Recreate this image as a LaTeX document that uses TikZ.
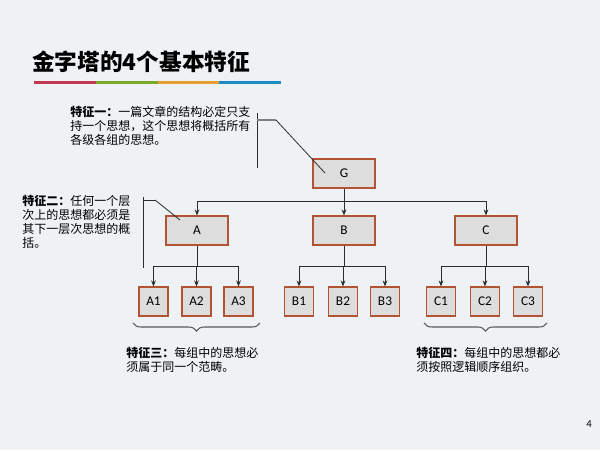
\documentclass[tikz,border=0pt]{standalone}
\usepackage{fontspec}
\setmainfont{Carlito}
\newfontfamily\cjk{Noto Sans CJK SC}
\usetikzlibrary{arrows.meta,calc,decorations.pathreplacing}

\definecolor{slidebg}{RGB}{238,242,245}
\definecolor{boxfill}{RGB}{221,221,221}
\definecolor{boxline}{RGB}{178,84,52}
\definecolor{linkgray}{RGB}{45,45,45}
\definecolor{barred}{RGB}{196,55,80}
\definecolor{bargreen}{RGB}{125,170,40}
\definecolor{barorange}{RGB}{232,160,50}
\definecolor{barblue}{RGB}{30,140,195}

\tikzset{
  box/.style={draw=boxline, fill=boxfill, line width=0.8pt, minimum width=46.5pt,
    minimum height=21.75pt, inner sep=0pt, font=\fontsize{10}{12}\selectfont},
  leaf/.style={box, minimum width=21.75pt},
  link/.style={draw=linkgray, line width=0.75pt, -{Stealth[length=4.5pt,width=3.5pt]}},
  stem/.style={draw=linkgray, line width=0.75pt},
  note/.style={align=left, anchor=north west, inner sep=0pt,
    font=\cjk\fontsize{9}{10.6}\selectfont},
  pin/.style={draw=linkgray, line width=0.6pt},
  grp/.style={decorate, decoration={brace, mirror, amplitude=6pt}, draw=gray!70!black, line width=0.8pt}
}

\begin{document}
\begin{tikzpicture}[x=0.75pt, y=-0.75pt]
  \fill[slidebg] (0,0) rectangle (600,450);
  \useasboundingbox (0,0) rectangle (600,450);

  % title and colour bar
  \node[anchor=west, inner sep=0pt, font=\cjk\bfseries\fontsize{17}{20}\selectfont] (title) at (32,62) {金字塔的4个基本特征};
  \foreach \c [count=\i from 0] in {barred,bargreen,barorange,barblue}
    \fill[\c] (34+\i*61.75,81) rectangle (34+\i*61.75+61.75,84);

  % boxes
  \node[box] (G) at (344,173.5) {G};
  \node[box] (A) at (197,230.5) {A};
  \node[box] (B) at (344,230.5) {B};
  \node[box] (C) at (486,230.5) {C};

  \node[leaf] (A1) at (153.5,301.5) {A1};
  \node[leaf] (A2) at (196.5,301.5) {A2};
  \node[leaf] (A3) at (238.5,301.5) {A3};
  \node[leaf] (B1) at (299,301.5) {B1};
  \node[leaf] (B2) at (343,301.5) {B2};
  \node[leaf] (B3) at (385,301.5) {B3};
  \node[leaf] (C1) at (441,301.5) {C1};
  \node[leaf] (C2) at (485,301.5) {C2};
  \node[leaf] (C3) at (528,301.5) {C3};

  % links
  \coordinate (gsplit) at (344,201);
  \draw[stem] (G.south) -- (gsplit);
  \draw[link] (gsplit) -| (A.north);
  \draw[link] (gsplit) -- (B.north);
  \draw[link] (gsplit) -| (C.north);
  \foreach \p in {A,B,C} {
    \coordinate (\p split) at ($(\p.south)+(0,21)$);
    \draw[stem] (\p.south) -- (\p split);
    \draw[link] (\p split) -| (\p1.north);
    \draw[link] (\p split) -| (\p2.north);
    \draw[link] (\p split) -| (\p3.north);
  }

  % notes
  \node[note] (note1) at (70,106) {{\bfseries 特征一：}一篇文章的结构必定只支\\持一个思想，这个思想将概括所有\\各级各组的思想。};
  \node[note] (note2) at (22,195) {{\bfseries 特征二：}任何一个层\\次上的思想都必须是\\其下一层次思想的概\\括。};
  \node[note] (note3) at (126,347) {{\bfseries 特征三：}每组中的思想必\\须属于同一个范畴。};
  \node[note] (note4) at (416,347) {{\bfseries 特征四：}每组中的思想都必\\须按照逻辑顺序组织。};

  % pointers
  \coordinate (p1a) at (257,113);
  \coordinate (p1b) at (257,168);
  \coordinate (p1c) at (257,120);
  \coordinate (p1d) at (276,120);
  \coordinate (p1e) at (325,173);
  \draw[pin] (p1a) -- (p1b);
  \draw[pin, line width=1.5pt, gray] (p1c) -- (p1d);
  \draw[pin] (p1d) -- (p1e);

  \coordinate (p2a) at (143,197);
  \coordinate (p2b) at (143,268);
  \coordinate (p2c) at (143,200);
  \coordinate (p2d) at (155,200);
  \coordinate (p2e) at (180,220);
  \draw[pin] (p2a) -- (p2b);
  \draw[pin] (p2c) -- (p2d);
  \draw[pin] (p2d) -- (p2e);

  % braces
  \coordinate (ba) at (133,323);
  \coordinate (bb) at (260,323);
  \coordinate (bc) at (424,323);
  \coordinate (bd) at (547,323);
  \draw[grp] (ba) -- (bb);
  \draw[grp] (bc) -- (bd);

  \node[font=\fontsize{8}{9}\selectfont] (pagenum) at (589,424) {4};
\end{tikzpicture}
\end{document}
